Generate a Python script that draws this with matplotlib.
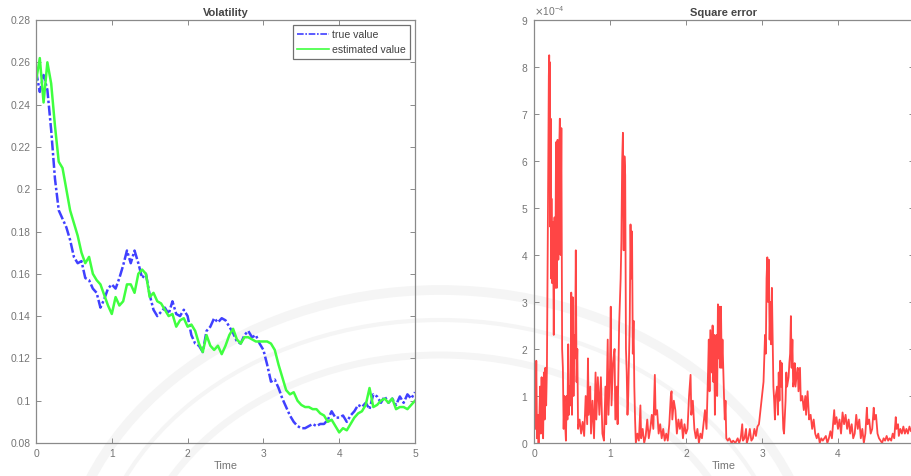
import numpy as np
import matplotlib.pyplot as plt
from matplotlib.patches import Ellipse
from matplotlib.ticker import ScalarFormatter

plt.rcParams['font.family'] = ['Liberation Sans', 'DejaVu Sans']

# volatility path, sampled every 0.05 time units
time = np.arange(101) * 0.05
true_vol = [
    0.256, 0.246, 0.254, 0.247, 0.228, 0.205, 0.190, 0.186, 0.182, 0.176,
    0.168, 0.165, 0.166, 0.158, 0.157, 0.153, 0.151, 0.144, 0.148, 0.153,
    0.155, 0.153, 0.158, 0.164, 0.171, 0.165, 0.171, 0.165, 0.158, 0.160,
    0.150, 0.143, 0.140, 0.142, 0.144, 0.141, 0.147, 0.141, 0.140, 0.143,
    0.140, 0.131, 0.127, 0.126, 0.123, 0.133, 0.135, 0.139, 0.137, 0.139,
    0.138, 0.135, 0.132, 0.128, 0.127, 0.131, 0.133, 0.130, 0.131, 0.127,
    0.124, 0.117, 0.109, 0.110, 0.106, 0.101, 0.097, 0.093, 0.090, 0.088,
    0.087, 0.087, 0.088, 0.089, 0.088, 0.089, 0.089, 0.091, 0.095, 0.092,
    0.092, 0.093, 0.090, 0.093, 0.095, 0.098, 0.097, 0.099, 0.096, 0.103,
    0.102, 0.099, 0.102, 0.099, 0.101, 0.098, 0.102, 0.099, 0.103, 0.101,
    0.104,
]
est_vol = [
    0.251, 0.262, 0.241, 0.260, 0.250, 0.230, 0.213, 0.210, 0.200, 0.190,
    0.184, 0.178, 0.170, 0.165, 0.168, 0.160, 0.157, 0.155, 0.150, 0.145,
    0.141, 0.149, 0.145, 0.147, 0.155, 0.155, 0.151, 0.160, 0.162, 0.160,
    0.149, 0.151, 0.147, 0.146, 0.143, 0.140, 0.141, 0.135, 0.138, 0.139,
    0.135, 0.136, 0.133, 0.127, 0.123, 0.131, 0.126, 0.124, 0.126, 0.122,
    0.126, 0.131, 0.134, 0.129, 0.127, 0.130, 0.130, 0.129, 0.128, 0.128,
    0.128, 0.128, 0.127, 0.124, 0.117, 0.111, 0.105, 0.103, 0.104, 0.100,
    0.098, 0.097, 0.097, 0.096, 0.096, 0.094, 0.093, 0.090, 0.091, 0.088,
    0.085, 0.087, 0.086, 0.089, 0.092, 0.094, 0.095, 0.098, 0.106, 0.097,
    0.098, 0.100, 0.101, 0.099, 0.101, 0.096, 0.097, 0.097, 0.096, 0.098,
    0.100,
]

# squared error (units of 1e-4)
err_time = [
    0.00, 0.01, 0.02, 0.03, 0.04, 0.05, 0.06, 0.07, 0.08, 0.09,
    0.10, 0.11, 0.12, 0.13, 0.14, 0.15, 0.16, 0.17, 0.18, 0.19,
    0.195, 0.20, 0.205, 0.21, 0.215, 0.22, 0.225, 0.23, 0.24, 0.25,
    0.26, 0.27, 0.28, 0.29, 0.30, 0.31, 0.32, 0.33, 0.34, 0.35,
    0.36, 0.37, 0.38, 0.39, 0.40, 0.41, 0.42, 0.43, 0.44, 0.45,
    0.46, 0.47, 0.48, 0.49, 0.50, 0.51, 0.52, 0.53, 0.54, 0.55,
    0.56, 0.57, 0.58, 0.60, 0.62, 0.64, 0.66, 0.68, 0.70, 0.71,
    0.72, 0.74, 0.75, 0.77, 0.79, 0.81, 0.82, 0.84, 0.86, 0.88,
    0.90, 0.92, 0.94, 0.95, 0.97, 0.98, 1.00, 1.01, 1.02, 1.04,
    1.06, 1.07, 1.09, 1.10, 1.12, 1.14, 1.15, 1.16, 1.17, 1.18,
    1.19, 1.20, 1.21, 1.22, 1.23, 1.24, 1.26, 1.27, 1.28, 1.29,
    1.30, 1.31, 1.32, 1.33, 1.34, 1.36, 1.38, 1.40, 1.41, 1.43,
    1.45, 1.47, 1.49, 1.51, 1.53, 1.55, 1.57, 1.59, 1.60, 1.62,
    1.64, 1.66, 1.68, 1.70, 1.72, 1.74, 1.76, 1.78, 1.80, 1.81,
    1.82, 1.84, 1.86, 1.88, 1.90, 1.92, 1.94, 1.96, 1.98, 2.00,
    2.02, 2.04, 2.06, 2.07, 2.09, 2.11, 2.13, 2.15, 2.17, 2.19,
    2.21, 2.23, 2.25, 2.27, 2.29, 2.30, 2.31, 2.32, 2.34, 2.35,
    2.36, 2.37, 2.38, 2.39, 2.40, 2.41, 2.42, 2.43, 2.44, 2.45,
    2.46, 2.47, 2.48, 2.50, 2.51, 2.52, 2.53, 2.55, 2.57, 2.60,
    2.62, 2.65, 2.68, 2.70, 2.72, 2.74, 2.75, 2.77, 2.79, 2.80,
    2.82, 2.84, 2.86, 2.88, 2.90, 2.92, 2.94, 2.96, 2.98, 3.00,
    3.02, 3.04, 3.05, 3.06, 3.07, 3.08, 3.09, 3.10, 3.11, 3.12,
    3.13, 3.14, 3.15, 3.16, 3.17, 3.18, 3.20, 3.21, 3.22, 3.23,
    3.24, 3.25, 3.26, 3.27, 3.28, 3.29, 3.31, 3.32, 3.33, 3.35,
    3.36, 3.37, 3.38, 3.39, 3.40, 3.41, 3.42, 3.43, 3.44, 3.46,
    3.47, 3.48, 3.50, 3.51, 3.53, 3.55, 3.57, 3.58, 3.60, 3.62,
    3.64, 3.66, 3.68, 3.70, 3.72, 3.74, 3.76, 3.78, 3.80, 3.82,
    3.84, 3.86, 3.88, 3.90, 3.92, 3.94, 3.95, 3.96, 3.98, 4.00,
    4.02, 4.04, 4.06, 4.08, 4.10, 4.12, 4.14, 4.16, 4.18, 4.20,
    4.22, 4.24, 4.26, 4.28, 4.30, 4.32, 4.34, 4.36, 4.38, 4.39,
    4.41, 4.43, 4.45, 4.47, 4.48, 4.50, 4.52, 4.54, 4.56, 4.58,
    4.60, 4.62, 4.64, 4.66, 4.68, 4.70, 4.72, 4.74, 4.76, 4.77,
    4.79, 4.80, 4.82, 4.84, 4.86, 4.88, 4.90, 4.92, 4.94, 4.96,
    4.98, 5.00,
]
err_vals = [
    0.2, 1.4, 0.3, 1.75, 0.1, 0.6, 0.0, 0.5, 1.2, 0.2,
    1.4, 0.4, 0.1, 1.5, 0.5, 1.6, 0.8, 1.6, 3.9, 6.5,
    7.8, 8.25, 5.8, 8.1, 4.6, 6.9, 3.5, 5.2, 3.4, 4.7,
    2.3, 4.8, 3.3, 6.4, 3.3, 6.45, 3.9, 6.1, 6.9, 4.0,
    6.7, 2.0, 1.6, 0.3, 1.0, 0.4, 0.05, 1.0, 0.5, 2.1,
    0.6, 1.2, 0.8, 3.2, 0.6, 3.1, 1.0, 2.3, 1.8, 4.1,
    1.3, 2.0, 0.3, 0.5, 0.2, 0.45, 0.15, 1.0, 0.4, 1.8,
    0.6, 1.2, 0.2, 0.9, 0.1, 1.5, 0.5, 1.4, 0.6, 1.4,
    0.2, 0.05, 1.2, 0.4, 2.2, 0.6, 1.6, 2.9, 0.8, 1.7,
    2.0, 0.5, 1.2, 0.4, 2.5, 3.5, 4.3, 6.0, 6.6, 4.1,
    6.1, 5.7, 2.0, 1.5, 0.6, 1.0, 2.6, 4.65, 3.5, 4.5,
    1.9, 2.6, 1.2, 0.5, 0.0, 0.2, 0.05, 0.8, 0.1, 0.3,
    0.0, 0.15, 0.5, 0.1, 0.3, 0.6, 0.3, 1.45, 0.6, 0.7,
    0.2, 0.4, 0.1, 0.3, 0.05, 0.2, 0.05, 0.4, 1.0, 1.1,
    0.5, 0.9, 0.7, 0.2, 0.5, 0.3, 0.5, 0.1, 0.4, 0.2,
    0.3, 1.0, 1.45, 0.6, 0.9, 0.3, 0.1, 0.3, 0.0, 0.2,
    0.1, 0.4, 0.7, 0.3, 1.5, 2.2, 1.1, 2.4, 1.5, 2.5,
    1.3, 2.3, 0.6, 1.6, 2.3, 1.0, 2.95, 1.8, 2.9, 1.6,
    2.9, 1.6, 2.2, 1.0, 0.5, 0.9, 0.1, 0.05, 0.1, 0.0,
    0.05, 0.0, 0.1, 0.0, 0.1, 0.4, 0.05, 0.1, 0.3, 0.0,
    0.1, 0.3, 0.05, 0.1, 0.3, 0.15, 0.35, 0.4, 0.7, 1.0,
    1.3, 2.3, 1.9, 3.5, 3.95, 3.0, 3.9, 2.2, 3.0, 2.1,
    3.3, 2.2, 1.2, 0.9, 0.5, 1.0, 1.2, 0.6, 1.5, 0.9,
    1.75, 1.2, 1.7, 0.8, 0.3, 0.2, 0.9, 1.5, 1.2, 1.4,
    1.7, 1.9, 2.7, 1.6, 2.2, 1.2, 1.3, 1.7, 1.2, 1.5,
    1.6, 1.1, 1.6, 0.9, 1.0, 0.7, 1.0, 0.6, 1.1, 0.5,
    0.6, 0.3, 0.5, 0.2, 0.1, 0.2, 0.0, 0.1, 0.05, 0.1,
    0.15, 0.0, 0.1, 0.25, 0.1, 0.5, 0.7, 0.4, 0.55, 0.3,
    0.5, 0.2, 0.65, 0.4, 0.6, 0.3, 0.5, 0.2, 0.4, 0.1,
    0.2, 0.6, 0.3, 0.5, 0.1, 0.3, 0.0, 0.2, 0.75, 0.4,
    0.5, 0.2, 0.3, 0.75, 0.5, 0.6, 0.2, 0.1, 0.05, 0.0,
    0.1, 0.05, 0.15, 0.05, 0.1, 0.05, 0.2, 0.1, 0.55, 0.3,
    0.4, 0.15, 0.3, 0.2, 0.35, 0.2, 0.3, 0.2, 0.35, 0.25,
    0.3, 0.25,
]

tick_color = '#757575'
spine_color = '#8a8a8a'


def matlab_style(ax):
    ax.set_facecolor('none')
    for s in ax.spines.values():
        s.set_color(spine_color)
        s.set_linewidth(0.9)
    ax.tick_params(direction='in', length=3.5, width=0.7, top=True, right=True,
                   colors=spine_color, labelcolor=tick_color, labelsize=7.4, pad=4)
    ax.set_xlabel('Time', fontsize=7.8, color=tick_color, labelpad=2)


fig = plt.figure(figsize=(9.11, 4.76), dpi=100)

# faint seal in the background
for w, h, lw in [(7.6, 6.2, 7), (7.0, 5.6, 3), (6.2, 4.9, 5)]:
    fig.add_artist(Ellipse((4.4, -1.24), w, h, transform=fig.dpi_scale_trans,
                           fill=False, ec='#f5f5f5', lw=lw, zorder=0))

ax1 = fig.add_axes([36 / 911, 33 / 476, 379 / 911, 423 / 476])
ax1.plot(time, true_vol, color='#4040ff', lw=1.8, ls=(0, (4, 1, 1, 1)), label='true value')
ax1.plot(time, est_vol, color='#40ff40', lw=1.8, label='estimated value')
ax1.set_xlim(0, 5)
ax1.set_ylim(0.08, 0.28)
ax1.set_yticks(np.arange(0.08, 0.281, 0.02))
ax1.set_yticklabels(['0.08', '0.1', '0.12', '0.14', '0.16', '0.18', '0.2',
                     '0.22', '0.24', '0.26', '0.28'])
ax1.set_title('Volatility', fontsize=8, fontweight='bold', color='#454545', pad=3)
matlab_style(ax1)
leg = ax1.legend(loc='upper right', fontsize=7.6, fancybox=False, handlelength=3.0,
                 borderaxespad=0.5, labelspacing=0.5, handletextpad=0.3,
                 borderpad=0.4, framealpha=1)
leg.get_frame().set_edgecolor('#707070')
leg.get_frame().set_linewidth(0.9)
for line in leg.get_lines():
    line.set_linewidth(1.2)
for t in leg.get_texts():
    t.set_color('#404040')

ax2 = fig.add_axes([534 / 911, 33 / 476, 380 / 911, 423 / 476])
ax2.plot(err_time, np.array(err_vals) * 1e-4, color='#ff4545', lw=1.3)
ax2.set_xlim(0, 5)
ax2.set_ylim(0, 9e-4)
ax2.set_xticks([0, 1, 2, 3, 4])
ax2.set_yticks(np.arange(0, 10) * 1e-4)
fmt = ScalarFormatter(useMathText=True)
fmt.set_powerlimits((0, 0))
ax2.yaxis.set_major_formatter(fmt)
ax2.yaxis.get_offset_text().set_fontsize(7.4)
ax2.yaxis.get_offset_text().set_color(tick_color)
ax2.set_title('Square error', fontsize=8, fontweight='bold', color='#454545', pad=3)
matlab_style(ax2)

fig.savefig('out.png', dpi=100)
